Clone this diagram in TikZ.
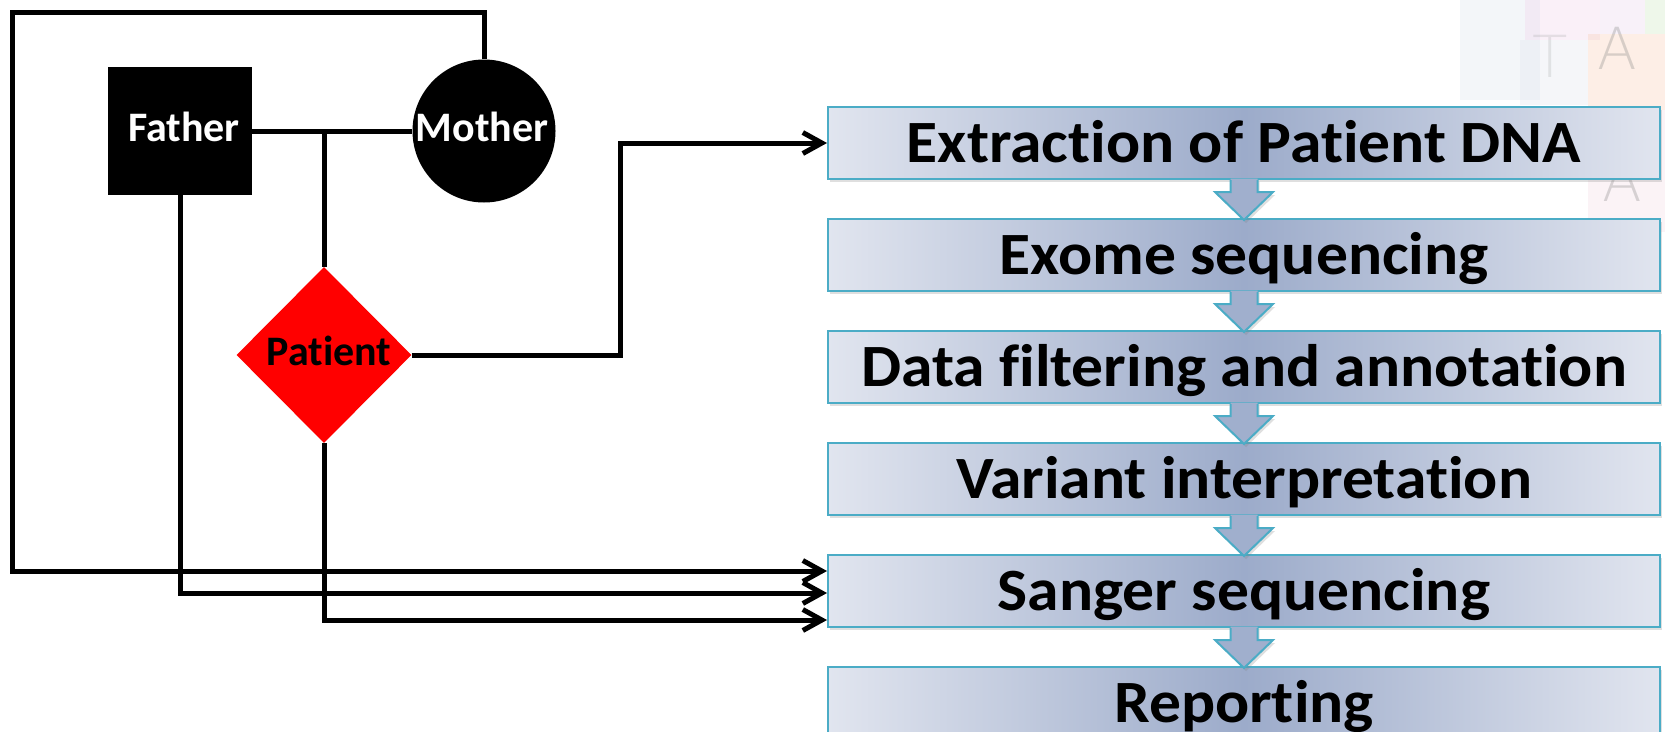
\documentclass[tikz,border=0pt]{standalone}
\usepackage{graphicx}
\usepackage{fontspec}
\setmainfont{Carlito}[Ligatures={NoCommon}]
\newfontfamily\letterfont{DejaVu Sans ExtraLight}
\usetikzlibrary{arrows.meta,shapes.geometric,shadows,fadings}
\definecolor{boxedge}{HTML}{4BACC6}
\definecolor{boxlight}{HTML}{E1E5EF}
\definecolor{boxdark}{HTML}{9CABCA}
\definecolor{flowarrow}{HTML}{A0AFCD}
\definecolor{tintA}{HTML}{DDE4EE}
\definecolor{tintB}{HTML}{F0D4EC}
\definecolor{tintC}{HTML}{EAD8EE}
\definecolor{tintD}{HTML}{CFE8C4}
\definecolor{tintE}{HTML}{E1E6EF}
\definecolor{tintF}{HTML}{F9CFB6}
\definecolor{tintG}{HTML}{F3DDE6}
\newcommand{\steplabel}[1]{\scalebox{1.06}[1]{#1}}
\tikzset{
  stepbox/.style={draw=boxedge, line width=2pt, minimum width=832pt, minimum height=72pt,
    inner sep=0pt, left color=boxlight, right color=boxlight, middle color=boxdark,
    text height=38.6pt, text depth=0pt, font=\bfseries\fontsize{60}{72}\selectfont,
    drop shadow={shadow xshift=1.5pt, shadow yshift=-3pt, opacity=0.25}},
  conn/.style={line width=5pt, draw=black},
  arr/.style={conn, -{Straight Barb[length=19pt,width=21pt]}},
  pedtext/.style={font=\bfseries\fontsize{42}{48}\selectfont, inner sep=0pt,
    text height=27pt, text depth=0pt},
  wmletter/.style={text=gray, font=\letterfont\fontsize{58}{60}\selectfont, inner sep=0pt},
}
\begin{document}
\begin{tikzpicture}[x=1pt,y=-1pt]
\useasboundingbox (0,0) rectangle (1665,731);

% pale letter backdrop in the upper right corner
\begin{scope}[opacity=0.35]
  \fill[tintA] (1460,0) rectangle (1540,100);
  \fill[tintB] (1525,0) rectangle (1600,40);
  \fill[tintC] (1600,0) rectangle (1645,34);
  \fill[tintD] (1645,0) rectangle (1665,34);
  \fill[tintE] (1520,40) rectangle (1588,105);
  \fill[tintF] (1588,34) rectangle (1665,110);
  \fill[tintG] (1588,110) rectangle (1665,232);
\end{scope}
\begin{scope}[opacity=0.3]
  \node[wmletter] (wa1) at (1617,48) {A};
  \node[wmletter, text=gray!60] (wt) at (1550,56) {T};
  \node[wmletter] (wa2) at (1622,180) {A};
\end{scope}

% workflow steps
\node[stepbox] (b1) at (1244,143) {\steplabel{Extraction of Patient DNA}};
\node[stepbox] (b2) at (1244,255) {\steplabel{Exome sequencing}};
\node[stepbox] (b3) at (1244,367) {\steplabel{Data filtering and annotation}};
\node[stepbox] (b4) at (1244,479) {\steplabel{Variant interpretation}};
\node[stepbox] (b5) at (1244,591) {\steplabel{Sanger sequencing}};
\node[stepbox] (b6) at (1244,703) {\steplabel{Reporting}};

% block arrows between consecutive steps
\foreach \a in {b1,b2,b3,b4,b5}{
  \begin{scope}[shift={(\a.south)}]
    \fill[flowarrow, drop shadow={shadow xshift=2pt, shadow yshift=-3pt, opacity=0.25}]
      (-13.5,-1.5) -- (-13.5,12) -- (-29,12) -- (0,40) -- (29,12) -- (13.5,12) -- (13.5,-1.5) -- cycle;
    \draw[boxedge, line width=2pt]
      (-13.5,0) -- (-13.5,12) -- (-29,12) -- (0,40) -- (29,12) -- (13.5,12) -- (13.5,0);
  \end{scope}
}

% pedigree
\node[fill=black, minimum width=144pt, minimum height=128pt, inner sep=0pt] (father) at (180,131) {};
\node[circle, fill=black, minimum size=143pt, inner sep=0pt] (mother) at (484,131) {};
\node[diamond, fill=red, minimum width=175pt, minimum height=176pt, inner sep=0pt] (patient) at (324,355) {};
\node[pedtext, text=white] (fatherlbl) at (184,128) {Father};
\node[pedtext, text=white] (motherlbl) at (482,128) {Mother};
\node[pedtext, text=black] (patientlbl) at (329,352) {Patient};

\coordinate (couple) at (324,131);
\coordinate (topleft) at (12,12);
\coordinate (bend) at (620,355);

\draw[conn] (father.east) -- (mother.west);
\draw[conn] (couple) -- (patient.north);
\draw[arr] (mother.north) |- (topleft) |- ([yshift=20pt]b5.west);
\draw[arr] (father.south) |- ([yshift=-2pt]b5.west);
\draw[arr] (patient.south) |- ([yshift=-29pt]b5.west);
\draw[arr] (patient.east) -- (bend) |- (b1.west);
\end{tikzpicture}
\end{document}
